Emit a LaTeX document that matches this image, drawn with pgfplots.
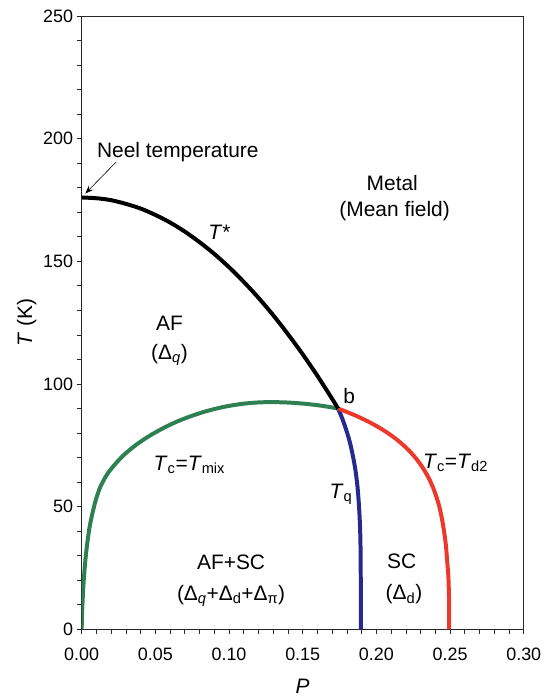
\documentclass[border=0pt]{standalone}
\usepackage{fontspec}
\setmainfont{Liberation Sans}
\usepackage{pgfplots}
\pgfplotsset{compat=1.18}
\usetikzlibrary{arrows.meta}
\definecolor{cgreen}{HTML}{2E8052}
\definecolor{cred}{HTML}{EC392B}
\definecolor{cblue}{HTML}{262A8C}
\newcommand\lab{\fontsize{21}{24}\selectfont}
\newcommand\tk{\fontsize{18}{20}\selectfont}
\begin{document}
\begin{tikzpicture}
\begin{axis}[
  scale only axis, width=444pt, height=616pt,
  xmin=0, xmax=0.3, ymin=0, ymax=250,
  xtick={0,0.05,0.10,0.15,0.20,0.25,0.30},
  ytick={0,50,100,150,200,250},
  minor x tick num=4, minor y tick num=4,
  tick align=outside, xtick pos=bottom, ytick pos=left,
  major tick length=5pt, minor tick length=5pt,
  every tick/.style={black!85, line width=0.7pt},
  axis line style={black!85, line width=0.8pt},
  tick label style={font=\tk, /pgf/number format/assume math mode=true},
  xticklabel style={yshift=-10pt, /pgf/number format/fixed, /pgf/number format/fixed zerofill, /pgf/number format/precision=2},
  scaled x ticks=false,
  label style={font=\lab},
  xlabel={\textit{P}},
  ylabel={\textit{T} (K)},
  xlabel style={inner sep=0pt, yshift=-15pt},
  every axis plot/.append style={line width=4pt, line cap=butt, line join=round},
]
% green: Tc = Tmix
\addplot[cgreen, smooth, tension=0.5] coordinates {
 (0,0) (0.0004,8) (0.0012,18) (0.0025,28) (0.004,36) (0.0055,42) (0.0072,47)
 (0.0095,52.5) (0.0125,57.8) (0.017,62.9) (0.022,66.8) (0.028,70.7) (0.035,74.3)
 (0.042,77.3) (0.049,79.9) (0.057,82.5) (0.066,85.0) (0.075,87.05) (0.084,88.8)
 (0.096,90.6) (0.108,91.82) (0.118,92.4) (0.128,92.6) (0.140,92.42)
 (0.152,91.89) (0.163,91.1) (0.174,90)
};
% blue: Tq
\addplot[cblue, smooth, tension=0.5] coordinates {
 (0.174,90) (0.1761,87) (0.1780,84) (0.1802,80) (0.1821,76) (0.1836,72)
 (0.1849,68) (0.1860,64) (0.1872,58) (0.1880,52) (0.1886,46) (0.1891,38)
 (0.1893,30) (0.1894,20) (0.1894,10) (0.1894,0)
};
% red: Tc = Td2
\addplot[cred, smooth, tension=0.5] coordinates {
 (0.174,90) (0.1863,87) (0.1966,84) (0.2052,81) (0.2124,78) (0.2184,75)
 (0.2235,72) (0.2277,69) (0.2313,66) (0.2352,62) (0.2383,58) (0.2407,54)
 (0.2427,50) (0.2445,45) (0.2459,40) (0.2472,34) (0.2480,28) (0.2488,22)
 (0.2492,15) (0.2494,8) (0.2494,0)
};
% black: T*
\addplot[black, smooth, tension=0.5] coordinates {
 (0,176) (0.01,175.7) (0.02,174.9) (0.03,173.4) (0.04,171.5) (0.05,168.9)
 (0.06,165.8) (0.07,162.1) (0.08,157.8) (0.09,153.0) (0.10,147.6)
 (0.11,141.6) (0.12,135.1) (0.13,128.0) (0.14,120.3) (0.15,112.1)
 (0.16,103.3) (0.17,93.9) (0.174,90)
};
\draw[line width=0.6pt, -{Stealth[length=8pt,width=6pt]}] (axis cs:0.0235,190.5) -- (axis cs:0.0025,177.6);
\node[font=\lab, anchor=base west, inner sep=0pt] at (axis cs:0.0103,192.5) {Neel temperature};
\node[font=\lab] at (axis cs:0.0935,162) {\textit{T}*};
\node[font=\lab] at (axis cs:0.2108,182) {Metal};
\node[font=\lab] at (axis cs:0.2124,170.6) {(Mean field)};
\node[font=\lab] at (axis cs:0.0596,124.6) {AF};
\node[font=\lab] at (axis cs:0.0596,111.7) {(Δ\textsubscript{\textit{q}})};
\node[font=\lab] at (axis cs:0.1815,95) {b};
\node[font=\lab] at (axis cs:0.0731,67) {\textit{T}\textsubscript{c}=\textit{T}\textsubscript{mix}};
\node[font=\lab] at (axis cs:0.1759,55) {\textit{T}\textsubscript{q}};
\node[font=\lab] at (axis cs:0.2537,67.8) {\textit{T}\textsubscript{c}=\textit{T}\textsubscript{d2}};
\node[font=\lab] at (axis cs:0.1014,27.2) {AF+SC};
\node[font=\lab] at (axis cs:0.1014,13.7) {(Δ\textsubscript{\textit{q}}+Δ\textsubscript{d}+Δ\textsubscript{π})};
\node[font=\lab] at (axis cs:0.2172,27.9) {SC};
\node[font=\lab] at (axis cs:0.2187,14.3) {(Δ\textsubscript{d})};
\end{axis}
\path ([shift={(-82pt,-71pt)}]current axis.south west) rectangle ([shift={(20pt,16pt)}]current axis.north east);
\end{tikzpicture}
\end{document}
